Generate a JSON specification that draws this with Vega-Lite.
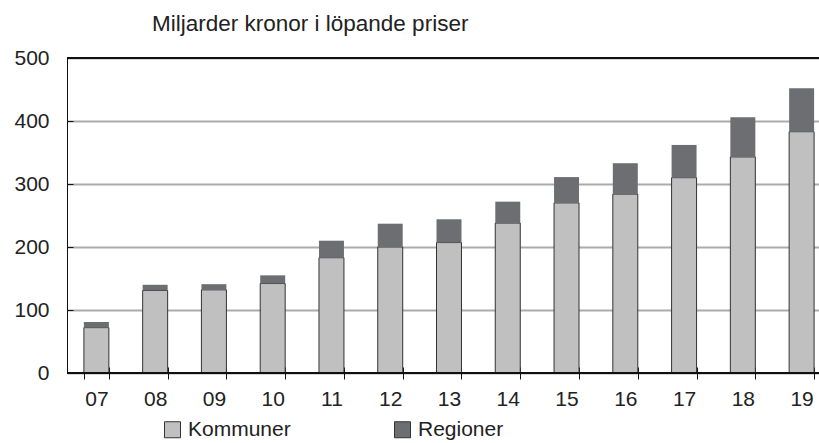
{
  "$schema": "https://vega.github.io/schema/vega-lite/v6.json",
  "autosize": {"type": "none"},
  "width": 752,
  "height": 315,
  "padding": {"left": 67, "top": 58, "right": 0, "bottom": 70},
  "background": "white",
  "title": {"text": "Miljarder kronor i löpande priser", "anchor": "start", "frame": "group", "dx": 85, "offset": -6, "baseline": "alphabetic", "font": "Liberation Sans", "fontSize": 22.5, "fontWeight": "normal", "color": "#222"},
  "config": {
    "view": {"stroke": null},
    "font": "Liberation Sans"
  },
  "data": {"values": [
    {"ar": "07", "serie": "Kommuner", "v": 72},
    {"ar": "07", "serie": "Regioner", "v": 9},
    {"ar": "08", "serie": "Kommuner", "v": 131},
    {"ar": "08", "serie": "Regioner", "v": 9},
    {"ar": "09", "serie": "Kommuner", "v": 132},
    {"ar": "09", "serie": "Regioner", "v": 9},
    {"ar": "10", "serie": "Kommuner", "v": 142},
    {"ar": "10", "serie": "Regioner", "v": 13},
    {"ar": "11", "serie": "Kommuner", "v": 183},
    {"ar": "11", "serie": "Regioner", "v": 27},
    {"ar": "12", "serie": "Kommuner", "v": 200},
    {"ar": "12", "serie": "Regioner", "v": 37},
    {"ar": "13", "serie": "Kommuner", "v": 207},
    {"ar": "13", "serie": "Regioner", "v": 37},
    {"ar": "14", "serie": "Kommuner", "v": 238},
    {"ar": "14", "serie": "Regioner", "v": 34},
    {"ar": "15", "serie": "Kommuner", "v": 270},
    {"ar": "15", "serie": "Regioner", "v": 41},
    {"ar": "16", "serie": "Kommuner", "v": 284},
    {"ar": "16", "serie": "Regioner", "v": 49},
    {"ar": "17", "serie": "Kommuner", "v": 310},
    {"ar": "17", "serie": "Regioner", "v": 52},
    {"ar": "18", "serie": "Kommuner", "v": 343},
    {"ar": "18", "serie": "Regioner", "v": 63},
    {"ar": "19", "serie": "Kommuner", "v": 383},
    {"ar": "19", "serie": "Regioner", "v": 69}
  ]},
  "layer": [
    {
      "mark": {"type": "bar", "strokeWidth": 1},
      "encoding": {
        "x": {
          "field": "ar", "type": "ordinal", "sort": null,
          "scale": {"range": [0, 764], "paddingInner": 0.575, "paddingOuter": 0.2875},
          "axis": {"title": null, "labelAngle": 0, "domain": false, "offset": -6, "tickSize": 12, "tickColor": "#111", "tickBand": "extent", "labelPadding": 9, "labelFontSize": 21, "labelColor": "#222", "labelFont": "Liberation Sans"}
        },
        "y": {
          "field": "v", "type": "quantitative", "stack": "zero",
          "scale": {"domain": [0, 500], "nice": false},
          "axis": {"title": null, "values": [0, 100, 200, 300, 400, 500], "tickSize": -6, "tickColor": "#111", "domainColor": "#111", "labelPadding": 24, "labelFontSize": 21, "labelColor": "#222", "labelFont": "Liberation Sans", "grid": true, "gridColor": "#ababab", "gridWidth": 2}
        },
        "color": {
          "field": "serie", "type": "nominal",
          "scale": {"domain": ["Kommuner", "Regioner"], "range": ["#c0c0c0", "#6d6e71"]},
          "legend": {"title": null, "orient": "none", "legendX": 95, "legendY": 361, "direction": "horizontal", "columns": 2, "columnPadding": 101, "padding": 0, "symbolType": "square", "symbolSize": 256, "symbolStrokeColor": "#333", "symbolStrokeWidth": 1, "symbolOpacity": 1, "labelOffset": 5, "labelFontSize": 21, "labelColor": "#222", "labelFont": "Liberation Sans"}
        },
        "order": {"field": "serie", "sort": "ascending"},
        "stroke": {"condition": {"test": "datum.serie === 'Kommuner'", "value": "#333"}, "value": null}
      }
    },
    {"mark": {"type": "rule", "color": "#111", "strokeWidth": 1}, "encoding": {"y": {"datum": 0}}},
    {"mark": {"type": "rule", "color": "#111", "strokeWidth": 1}, "encoding": {"y": {"datum": 500}}}
  ]
}
